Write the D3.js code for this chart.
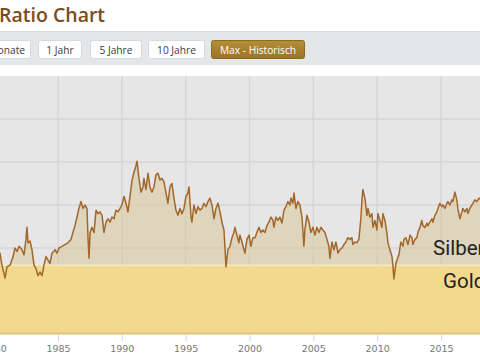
<!DOCTYPE html>
<html><head><meta charset="utf-8">
<script src="https://cdn.jsdelivr.net/npm/d3@7"></script>
<style>html,body{margin:0;padding:0;background:#fff;overflow:hidden;}svg{display:block}</style>
</head><body><svg id="c" width="480" height="360"></svg>
<script>
// ---- data ----
const years = [1980.30,1980.46,1980.61,1980.85,1981.01,1981.24,1981.48,1981.63,1981.79,1981.95,
1982.18,1982.34,1982.49,1982.57,1982.65,1982.81,1982.96,1983.12,1983.28,1983.43,1983.59,1983.75,1983.90,
1984.06,1984.22,1984.37,1984.53,1984.77,1984.92,1985.08,1985.31,1985.55,1985.78,1986.02,1986.17,1986.33,
1986.49,1986.64,1986.80,1986.96,1987.11,1987.27,1987.35,1987.43,1987.51,1987.66,1987.82,1987.98,1988.13,
1988.29,1988.45,1988.60,1988.76,1988.92,1989.07,1989.23,1989.39,1989.54,1989.70,1989.86,1990.01,1990.17,
1990.33,1990.48,1990.64,1990.80,1990.95,1991.11,1991.19,1991.34,1991.50,1991.66,1991.73,1991.89,1992.05,
1992.20,1992.36,1992.52,1992.67,1992.83,1992.99,1993.14,1993.30,1993.46,1993.61,1993.77,1993.93,1994.08,
1994.24,1994.40,1994.55,1994.71,1994.87,1995.02,1995.18,1995.26,1995.42,1995.49,1995.65,1995.81,1995.96,
1996.12,1996.28,1996.43,1996.59,1996.75,1996.90,1997.06,1997.22,1997.37,1997.53,1997.69,1997.84,1998.00,
1998.08,1998.16,1998.31,1998.47,1998.63,1998.78,1998.86,1999.02,1999.17,1999.25,1999.41,1999.57,1999.64,
1999.80,1999.96,2000.11,2000.27,2000.43,2000.58,2000.74,2000.90,2001.05,2001.21,2001.37,2001.52,2001.68,
2001.84,2001.91,2002.07,2002.23,2002.38,2002.54,2002.70,2002.85,2003.01,2003.17,2003.25,2003.40,2003.48,
2003.64,2003.79,2003.95,2004.11,2004.26,2004.34,2004.50,2004.66,2004.81,2004.97,2005.13,2005.28,2005.44,
2005.60,2005.75,2005.91,2006.07,2006.22,2006.30,2006.46,2006.61,2006.77,2006.93,2007.08,2007.24,2007.40,
2007.55,2007.71,2007.87,2008.02,2008.10,2008.26,2008.41,2008.57,2008.73,2008.81,2008.88,2009.04,2009.20,
2009.28,2009.43,2009.59,2009.67,2009.82,2009.98,2010.06,2010.22,2010.37,2010.45,2010.61,2010.76,2010.84,
2011.00,2011.16,2011.23,2011.31,2011.47,2011.55,2011.70,2011.86,2012.02,2012.10,2012.25,2012.41,2012.57,
2012.72,2012.80,2012.96,2013.11,2013.19,2013.35,2013.50,2013.58,2013.74,2013.90,2013.97,2014.13,2014.29,
2014.37,2014.52,2014.68,2014.76,2014.91,2015.07,2015.15,2015.31,2015.46,2015.54,2015.70,2015.85,2015.93,
2016.09,2016.24,2016.32,2016.48,2016.64,2016.71,2016.87,2017.03,2017.11,2017.26,2017.42,2017.50,2017.65,
2017.81,2017.97,2018.15];
const ratios = [44,47,40,32.5,39,40,45,50,48,51,
49,46,55,62,53,54,49,40,38,34,36,34,40,
45,43,41,47,49,47,50,51,52,53,55,59,63,
68,73,77,73,75,73,56,44,59,62,59,72,70,
71,69,59,65,67,65,68,67,72,71,73,75,80,
76,71,80,89.5,94,98,100.5,90.5,82.5,85.5,90.5,84,93.5,
85.5,82.5,85.5,92.5,93.5,89.5,90.5,88.5,82,76,85.5,87.5,79,
72,69,73,70,73,80,82,85.5,68,65,75,70,74,
72,73,76,74,77,79,75,67,73,76,71,65,60.5,
50,39,49,51,56,59,62,57.5,53,57.5,53.5,49,47,
55,57.5,51,56,56,59,62,59,60.5,59,63,65,68,
66,62,68,66,68,64.5,72,74,77,75,79,76,82,
73,77,75,68,51,60.5,69,65,59,62,57.5,62,59,
62,60.5,59,55,51,44,53.5,49,53.5,47,49,50,52,
53.5,56,55,56,52,53.5,53,55,68,78,84,79,69,
73,68,70,62,66,60.5,70,66,62,70,66,59,53,
49,45,40,32,41,43,46,53.5,51,55,56,52,57.5,
56,52,55,56,59,62,66,63,62,64.5,63,65,67,
65,69,71,73,76,74,75,73,76,77,75,78,77,
82.5,78,73,67,71,73,71,73,70,73,75,76,78,
77,79,78];
const xTicks = [1980,1985,1990,1995,2000,2005,2010,2015,2020];
const yTicks = [0,25,50,75,100,125,150];
const goldBand = [0,40];
const bandLabels = ["Silber","Gold"];
const buttonLabels = ["6 Monate","1 Jahr","5 Jahre","10 Jahre","Max - Historisch"];
const activeButton = 4;
const title = "Ratio Chart";

// ---- layout ----
const svg = d3.select("#c");
const x = d3.scaleLinear().domain([1985,2015]).range([58,441]);
const y = d3.scaleLinear().domain([0,150]).range([334,76]);
const data = years.map((d,i)=>({t:d, v:ratios[i]}));

// title
svg.append("text").attr("x",-1).attr("y",22)
  .attr("font-family","'Open Sans', sans-serif").attr("font-weight",600)
  .attr("font-size",19.5).attr("fill","#7b4b1c").text(title);

// toolbar band
svg.append("rect").attr("x",0).attr("y",31).attr("width",480).attr("height",34).attr("fill","#e4e7ea");
svg.append("rect").attr("x",0).attr("y",31).attr("width",480).attr("height",1).attr("fill","#d8dcdf");

const btnGeom = [[-40,31],[38,82],[90,142],[148,205],[211,305]];
const defs = svg.append("defs");
const grad = defs.append("linearGradient").attr("id","btnGrad").attr("x1",0).attr("y1",0).attr("x2",0).attr("y2",1);
grad.append("stop").attr("offset","0%").attr("stop-color","#b38d37");
grad.append("stop").attr("offset","100%").attr("stop-color","#9a7524");
buttonLabels.forEach((lab,i)=>{
  const [a,b] = btnGeom[i];
  const act = i===activeButton;
  svg.append("rect").attr("x",a+0.5).attr("y",40.5).attr("width",b-a-1).attr("height",18).attr("rx",2)
    .attr("fill",act?"url(#btnGrad)":"#fff").attr("stroke",act?"#8c6a1f":"#d6dadd");
  const t = svg.append("text").attr("y",53.5)
    .attr("font-family","'Open Sans', sans-serif").attr("font-size",10.2)
    .attr("fill",act?"#fff":"#3a3a3a").text(lab);
  if (i===0) t.attr("x",25).attr("text-anchor","end");
  else t.attr("x",(a+b)/2).attr("text-anchor","middle");
});

// plot background
svg.append("rect").attr("x",0).attr("y",y(150)).attr("width",480).attr("height",y(0)-y(150)).attr("fill","#e6e6e6");

// gridlines
const grid = svg.append("g").attr("stroke","#d6d6d6").attr("stroke-width",1.5);
yTicks.filter(t=>t>0 && t<150).forEach(t=>{
  grid.append("line").attr("x1",0).attr("x2",480).attr("y1",y(t)).attr("y2",y(t));
});
xTicks.forEach(t=>{
  grid.append("line").attr("x1",x(t)).attr("x2",x(t)).attr("y1",y(150)).attr("y2",y(0));
});

// area (Silber)
const area = d3.area().x(d=>x(d.t)).y0(y(0)).y1(d=>y(d.v));
svg.append("path").datum(data).attr("d",area).attr("fill","#d9c699").attr("fill-opacity",0.55);

// gold band
svg.append("rect").attr("x",0).attr("y",y(goldBand[1])).attr("width",480)
  .attr("height",y(goldBand[0])-y(goldBand[1])).attr("fill","#f4d98a").attr("fill-opacity",0.92);
svg.append("line").attr("x1",0).attr("x2",480).attr("y1",y(goldBand[1])).attr("y2",y(goldBand[1]))
  .attr("stroke","#fbf0cf").attr("stroke-width",1);

// line
const line = d3.line().x(d=>x(d.t)).y(d=>y(d.v));
svg.append("path").datum(data).attr("d",line).attr("fill","none")
  .attr("stroke","#a2672a").attr("stroke-width",1.5).attr("stroke-linejoin","round");

// band labels
svg.append("text").attr("x",433).attr("y",255).attr("font-family","Roboto, sans-serif")
  .attr("font-size",20.5).attr("fill","#222").text(bandLabels[0]);
svg.append("text").attr("x",443).attr("y",288).attr("font-family","Roboto, sans-serif")
  .attr("font-size",20.5).attr("fill","#222").text(bandLabels[1]);

// bottom axis line
svg.append("line").attr("x1",0).attr("x2",480).attr("y1",333.5).attr("y2",333.5)
  .attr("stroke","#dcc47c").attr("stroke-width",2);

// x axis
const ax = svg.append("g").attr("transform","translate(0,335)")
  .call(d3.axisBottom(x).tickValues(xTicks).tickFormat(d3.format("d")).tickSize(6).tickPadding(4));
ax.select(".domain").remove();
ax.selectAll(".tick line").attr("stroke","#ccd6eb");
ax.selectAll(".tick text").attr("fill","#777")
  .attr("font-family","'DejaVu Sans', sans-serif").attr("font-size",9.5);
</script>
</body></html>
